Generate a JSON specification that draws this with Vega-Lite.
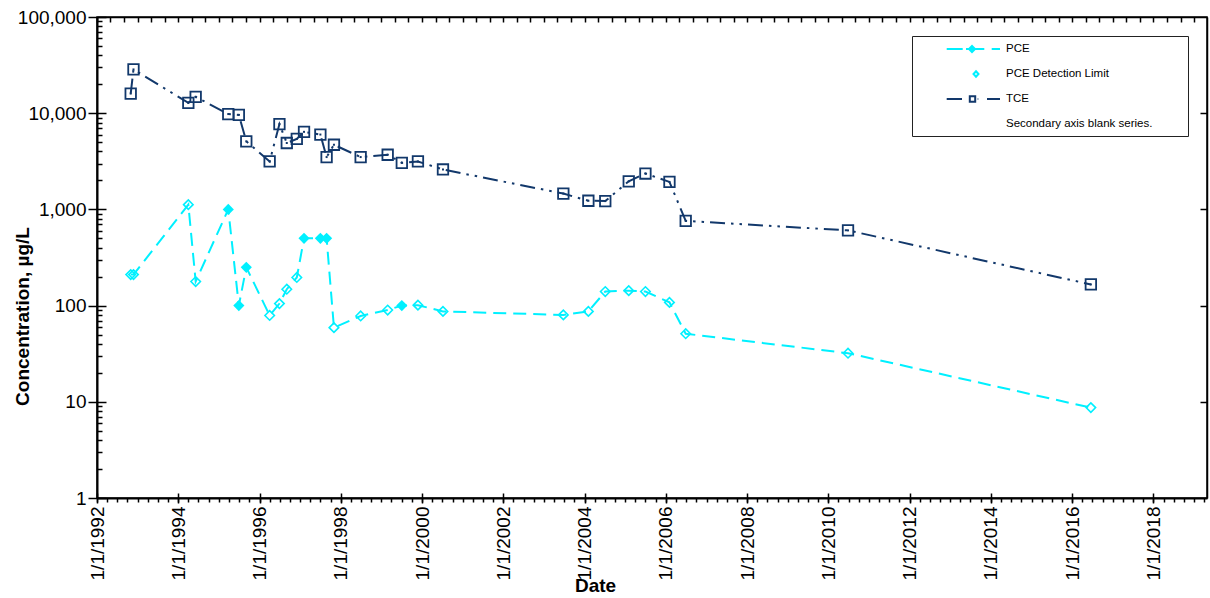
{
  "$schema": "https://vega.github.io/schema/vega-lite/v6.json",
  "width": 1110,
  "height": 481,
  "autosize": {"type": "none"},
  "padding": {"left": 97, "top": 17, "right": 3, "bottom": 100},
  "background": "white",
  "config": {
    "view": {"stroke": "black", "strokeWidth": 1.5},
    "axis": {
      "grid": false,
      "labelFont": "Liberation Sans",
      "titleFont": "Liberation Sans",
      "labelColor": "black",
      "titleColor": "black",
      "tickColor": "black",
      "domainColor": "black",
      "tickWidth": 1.5,
      "domainWidth": 2,
      "labelFontSize": 19,
      "titleFontSize": 19,
      "titleFontWeight": "bold",
      "labelOverlap": false,
      "labelFlush": false
    },
    "legend": {
      "orient": "top-right",
      "offset": 19,
      "padding": 0,
      "strokeColor": "#222222",
      "strokeWidth": 1,
      "fillColor": "white",
      "labelFont": "Liberation Sans",
      "labelFontSize": 11.5,
      "labelColor": "black",
      "labelOffset": 68,
      "rowPadding": 0,
      "symbolSize": 576,
      "symbolStrokeWidth": 2
    }
  },
  "data": {
    "values": [
      {"date": "1992-10-30", "analyte": "PCE", "series": "PCE", "value": 210},
      {"date": "1992-11-24", "analyte": "PCE", "series": "PCE", "value": 210},
      {"date": "1994-04-01", "analyte": "PCE", "series": "PCE", "value": 1120},
      {"date": "1994-06-06", "analyte": "PCE", "series": "PCE", "value": 178},
      {"date": "1995-03-26", "analyte": "PCE", "series": "PCE Detection Limit", "value": 1000},
      {"date": "1995-06-29", "analyte": "PCE", "series": "PCE Detection Limit", "value": 100},
      {"date": "1995-09-04", "analyte": "PCE", "series": "PCE Detection Limit", "value": 250},
      {"date": "1996-04-01", "analyte": "PCE", "series": "PCE", "value": 79},
      {"date": "1996-06-28", "analyte": "PCE", "series": "PCE", "value": 105},
      {"date": "1996-09-02", "analyte": "PCE", "series": "PCE", "value": 148},
      {"date": "1996-12-01", "analyte": "PCE", "series": "PCE", "value": 196},
      {"date": "1997-02-04", "analyte": "PCE", "series": "PCE Detection Limit", "value": 500},
      {"date": "1997-07-01", "analyte": "PCE", "series": "PCE Detection Limit", "value": 500},
      {"date": "1997-08-26", "analyte": "PCE", "series": "PCE Detection Limit", "value": 500},
      {"date": "1997-10-31", "analyte": "PCE", "series": "PCE", "value": 59},
      {"date": "1998-06-28", "analyte": "PCE", "series": "PCE", "value": 78},
      {"date": "1999-02-26", "analyte": "PCE", "series": "PCE", "value": 90},
      {"date": "1999-07-03", "analyte": "PCE", "series": "PCE Detection Limit", "value": 100},
      {"date": "1999-11-25", "analyte": "PCE", "series": "PCE", "value": 101},
      {"date": "2000-07-07", "analyte": "PCE", "series": "PCE", "value": 87},
      {"date": "2003-06-24", "analyte": "PCE", "series": "PCE", "value": 80},
      {"date": "2004-02-04", "analyte": "PCE", "series": "PCE", "value": 87},
      {"date": "2004-07-05", "analyte": "PCE", "series": "PCE", "value": 140},
      {"date": "2005-02-01", "analyte": "PCE", "series": "PCE", "value": 143},
      {"date": "2005-07-01", "analyte": "PCE", "series": "PCE", "value": 140},
      {"date": "2006-02-02", "analyte": "PCE", "series": "PCE", "value": 108},
      {"date": "2006-06-28", "analyte": "PCE", "series": "PCE", "value": 51},
      {"date": "2010-06-26", "analyte": "PCE", "series": "PCE", "value": 32},
      {"date": "2016-06-17", "analyte": "PCE", "series": "PCE", "value": 8.7},
      {"date": "1992-10-30", "analyte": "TCE", "series": "TCE", "value": 16000},
      {"date": "1992-11-24", "analyte": "TCE", "series": "TCE", "value": 28500},
      {"date": "1994-04-01", "analyte": "TCE", "series": "TCE", "value": 12800},
      {"date": "1994-06-06", "analyte": "TCE", "series": "TCE", "value": 14800},
      {"date": "1995-03-26", "analyte": "TCE", "series": "TCE", "value": 9800},
      {"date": "1995-06-29", "analyte": "TCE", "series": "TCE", "value": 9600},
      {"date": "1995-09-04", "analyte": "TCE", "series": "TCE", "value": 5100},
      {"date": "1996-04-01", "analyte": "TCE", "series": "TCE", "value": 3150},
      {"date": "1996-06-28", "analyte": "TCE", "series": "TCE", "value": 7700},
      {"date": "1996-09-02", "analyte": "TCE", "series": "TCE", "value": 4900},
      {"date": "1996-12-01", "analyte": "TCE", "series": "TCE", "value": 5400},
      {"date": "1997-02-04", "analyte": "TCE", "series": "TCE", "value": 6400},
      {"date": "1997-07-01", "analyte": "TCE", "series": "TCE", "value": 6000},
      {"date": "1997-08-26", "analyte": "TCE", "series": "TCE", "value": 3500},
      {"date": "1997-10-31", "analyte": "TCE", "series": "TCE", "value": 4700},
      {"date": "1998-06-28", "analyte": "TCE", "series": "TCE", "value": 3500},
      {"date": "1999-02-26", "analyte": "TCE", "series": "TCE", "value": 3700},
      {"date": "1999-07-03", "analyte": "TCE", "series": "TCE", "value": 3050},
      {"date": "1999-11-25", "analyte": "TCE", "series": "TCE", "value": 3150},
      {"date": "2000-07-07", "analyte": "TCE", "series": "TCE", "value": 2600},
      {"date": "2003-06-24", "analyte": "TCE", "series": "TCE", "value": 1460},
      {"date": "2004-02-04", "analyte": "TCE", "series": "TCE", "value": 1230},
      {"date": "2004-07-05", "analyte": "TCE", "series": "TCE", "value": 1220},
      {"date": "2005-02-01", "analyte": "TCE", "series": "TCE", "value": 1960},
      {"date": "2005-07-01", "analyte": "TCE", "series": "TCE", "value": 2360},
      {"date": "2006-02-02", "analyte": "TCE", "series": "TCE", "value": 1930},
      {"date": "2006-06-28", "analyte": "TCE", "series": "TCE", "value": 760},
      {"date": "2010-06-26", "analyte": "TCE", "series": "TCE", "value": 605},
      {"date": "2016-06-17", "analyte": "TCE", "series": "TCE", "value": 166}
    ]
  },
  "layer": [
    {
      "transform": [{"filter": "datum.analyte === 'PCE'"}],
      "mark": {"type": "line", "color": "#00F0FF", "strokeWidth": 2, "strokeDash": [13, 7]},
      "encoding": {
        "x": {
          "field": "date", "type": "temporal",
          "scale": {"type": "utc", "domain": [{"year": 1992, "month": 1, "date": 1, "utc": true}, {"year": 2019, "month": 4, "date": 27, "utc": true}]},
          "axis": {
            "orient": "bottom",
            "tickCount": {"interval": "year", "step": 2},
            "labelExpr": "utcFormat(datum.value, '%-m/%-d/%Y')",
            "labelAngle": 270, "labelAlign": "right", "labelBaseline": "middle",
            "tickSize": 5, "labelPadding": 3,
            "title": "Date", "titleX": 498, "titleY": 87,
            "titleAlign": "center", "titleBaseline": "middle", "titleAngle": 0
          }
        },
        "y": {
          "field": "value", "type": "quantitative",
          "scale": {"type": "log", "domain": [1, 100000], "nice": false},
          "axis": {
            "orient": "left",
            "values": [1, 10, 100, 1000, 10000, 100000],
            "format": ",",
            "tickSize": 9, "labelPadding": 2,
            "title": "Concentration, µg/L", "titleX": -75, "titleY": 299,
            "titleAngle": 270, "titleAlign": "center", "titleBaseline": "middle"
          }
        }
      }
    },
    {
      "transform": [{"filter": "datum.series === 'PCE'"}],
      "mark": {"type": "point", "shape": "diamond", "filled": false, "color": "#00F0FF", "size": 90, "strokeWidth": 1.6, "opacity": 1},
      "encoding": {
        "x": {
          "field": "date", "type": "temporal",
          "scale": {"type": "utc", "domain": [{"year": 1992, "month": 1, "date": 1, "utc": true}, {"year": 2019, "month": 4, "date": 27, "utc": true}]},
          "axis": {"orient": "bottom", "tickCount": {"interval": "month", "step": 3}, "tickSize": 4, "labels": false, "domain": false, "title": null}
        },
        "y": {
          "field": "value", "type": "quantitative",
          "scale": {"type": "log", "domain": [1, 100000], "nice": false},
          "axis": {
            "orient": "left",
            "values": [2, 3, 4, 5, 6, 7, 8, 9, 20, 30, 40, 50, 60, 70, 80, 90, 200, 300, 400, 500, 600, 700, 800, 900, 2000, 3000, 4000, 5000, 6000, 7000, 8000, 9000, 20000, 30000, 40000, 50000, 60000, 70000, 80000, 90000],
            "tickSize": -5, "labels": false, "domain": false, "title": null
          }
        }
      }
    },
    {
      "transform": [{"filter": "datum.series === 'PCE Detection Limit'"}],
      "mark": {"type": "point", "shape": "diamond", "filled": true, "color": "#00F0FF", "size": 125, "opacity": 1},
      "encoding": {
        "x": {
          "field": "date", "type": "temporal",
          "scale": {"type": "utc", "domain": [{"year": 1992, "month": 1, "date": 1, "utc": true}, {"year": 2019, "month": 4, "date": 27, "utc": true}]},
          "axis": {"orient": "bottom", "tickCount": {"interval": "year", "step": 2}, "tickSize": -5, "labels": false, "domain": false, "title": null}
        },
        "y": {
          "field": "value", "type": "quantitative",
          "scale": {"type": "log", "domain": [1, 100000], "nice": false},
          "axis": {"orient": "left", "values": [1, 10, 100, 1000, 10000, 100000], "tickSize": -9, "labels": false, "domain": false, "title": null}
        }
      }
    },
    {
      "transform": [{"filter": "datum.analyte === 'TCE'"}],
      "mark": {"type": "line", "color": "#12386B", "strokeWidth": 2, "strokeDash": [15, 6, 2.5, 6, 2.5, 6]},
      "encoding": {
        "x": {
          "field": "date", "type": "temporal",
          "scale": {"type": "utc", "domain": [{"year": 1992, "month": 1, "date": 1, "utc": true}, {"year": 2019, "month": 4, "date": 27, "utc": true}]},
          "axis": {"orient": "top", "tickCount": {"interval": "month", "step": 4}, "tickSize": -5, "labels": false, "domain": true, "domainWidth": 1.5, "title": null}
        },
        "y": {
          "field": "value", "type": "quantitative",
          "scale": {"type": "log", "domain": [1, 100000], "nice": false},
          "axis": {"orient": "right", "values": [10, 100, 1000, 10000], "tickSize": -7, "labels": false, "domain": true, "domainWidth": 1.5, "title": null}
        }
      }
    },
    {
      "transform": [{"filter": "datum.analyte === 'TCE'"}],
      "mark": {"type": "point", "shape": "square", "filled": false, "color": "#12386B", "size": 110, "strokeWidth": 1.8, "opacity": 1},
      "encoding": {
        "x": {
          "field": "date", "type": "temporal",
          "scale": {"type": "utc", "domain": [{"year": 1992, "month": 1, "date": 1, "utc": true}, {"year": 2019, "month": 4, "date": 27, "utc": true}]},
          "axis": null
        },
        "y": {
          "field": "value", "type": "quantitative",
          "scale": {"type": "log", "domain": [1, 100000], "nice": false},
          "axis": null
        }
      }
    },
    {
      "transform": [{"filter": "datum.analyte === 'TCE'"}],
      "mark": {"type": "point", "shape": "square", "filled": true, "color": "#12386B", "size": 4, "opacity": 1},
      "encoding": {
        "x": {
          "field": "date", "type": "temporal",
          "scale": {"type": "utc", "domain": [{"year": 1992, "month": 1, "date": 1, "utc": true}, {"year": 2019, "month": 4, "date": 27, "utc": true}]},
          "axis": null
        },
        "y": {
          "field": "value", "type": "quantitative",
          "scale": {"type": "log", "domain": [1, 100000], "nice": false},
          "axis": null
        }
      }
    },
    {
      "mark": {"type": "point", "opacity": 0, "size": 576, "strokeWidth": 2},
      "encoding": {
        "x": {
          "field": "date", "type": "temporal",
          "scale": {"type": "utc", "domain": [{"year": 1992, "month": 1, "date": 1, "utc": true}, {"year": 2019, "month": 4, "date": 27, "utc": true}]},
          "axis": null
        },
        "y": {
          "field": "value", "type": "quantitative",
          "scale": {"type": "log", "domain": [1, 100000], "nice": false},
          "axis": null
        },
        "shape": {
          "field": "series", "type": "nominal",
          "scale": {
            "domain": ["PCE", "PCE Detection Limit", "TCE", "Secondary axis blank series."],
            "range": [
              "M-0.7,-0.66M21.55,0.66M1.808,0L3.142,0M3.417,0L4.942,0M5.558,0L6.25,0M3.917,-0.25L4.167,0L3.917,0.25L3.667,0Z",
              "M-0.7,-0.66M21.55,0.66M4.25,-0.229L4.458,0L4.25,0.229L4.042,0Z",
              "M-0.7,-0.66M21.55,0.66M1.808,0L3.083,0M3.733,-0.225L4.183,-0.225L4.183,0.225L3.733,0.225ZM4.39,0L4.44,0M5.167,0L6.25,0",
              "M-0.7,-0.66M21.55,0.66"
            ]
          },
          "legend": {"title": null}
        },
        "stroke": {
          "field": "series", "type": "nominal",
          "scale": {
            "domain": ["PCE", "PCE Detection Limit", "TCE", "Secondary axis blank series."],
            "range": ["#00F0FF", "#00F0FF", "#12386B", "transparent"]
          },
          "legend": {"title": null}
        },
        "fill": {
          "field": "series", "type": "nominal",
          "scale": {
            "domain": ["PCE", "PCE Detection Limit", "TCE", "Secondary axis blank series."],
            "range": ["transparent", "#00F0FF", "transparent", "transparent"]
          },
          "legend": {"title": null}
        }
      }
    }
  ],
  "resolve": {"axis": {"x": "independent", "y": "independent"}}
}
